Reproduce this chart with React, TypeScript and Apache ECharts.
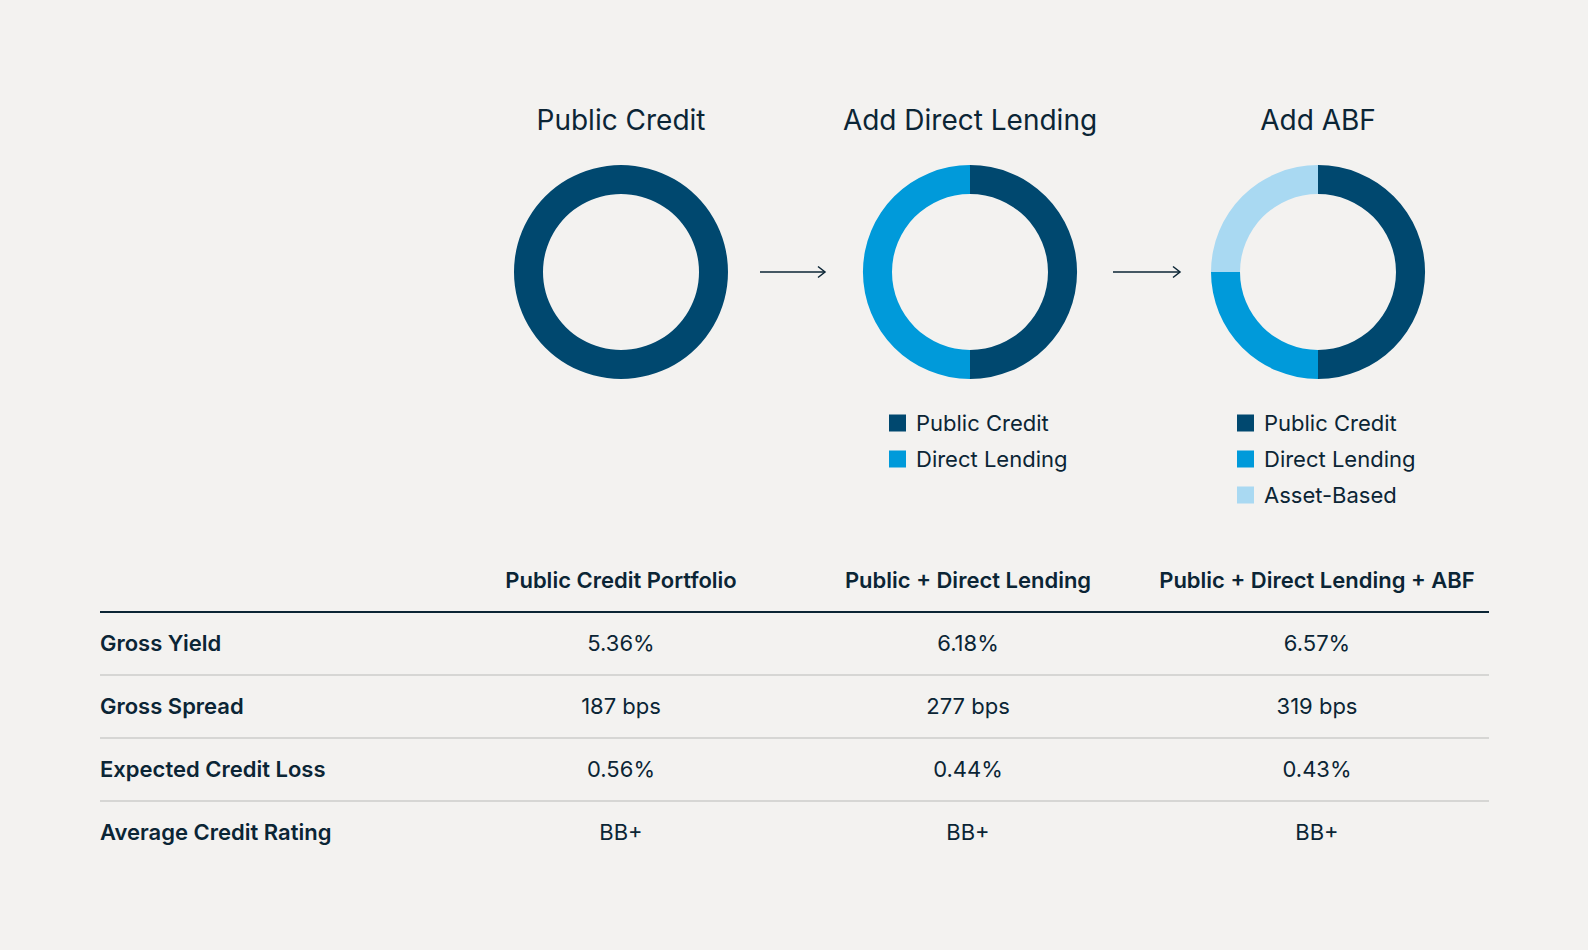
import React, { useEffect, useRef } from "react";
import * as echarts from "echarts";

const donutTitles = ["Public Credit", "Add Direct Lending", "Add ABF"];
const segmentNames = ["Public Credit", "Direct Lending", "Asset-Based"];
const publicOnly = [100];
const addDirect = [50, 50];
const addAbf = [50, 25, 25];

const columnHeaders = ["Public Credit Portfolio", "Public + Direct Lending", "Public + Direct Lending + ABF"];
const rowLabels = ["Gross Yield", "Gross Spread", "Expected Credit Loss", "Average Credit Rating"];
const col1Values = ["5.36%", "187 bps", "0.56%", "BB+"];
const col2Values = ["6.18%", "277 bps", "0.44%", "BB+"];
const col3Values = ["6.57%", "319 bps", "0.43%", "BB+"];

const COLORS = ["#00486F", "#009ADA", "#A9D9F2"];
const INK = "#0B2535";
const BG = "#F3F2F0";
const FONT = "Inter, 'Noto Sans', sans-serif";

export default function App() {
  const ref = useRef<HTMLDivElement>(null);
  useEffect(() => {
    document.body.style.margin = "0";
    const chart = echarts.init(ref.current!, undefined, { renderer: "svg" });
    const centersX = [621, 970, 1318];
    const centerY = 272;
    const mk = (vals: number[]) =>
      vals.map((v, i) => ({ name: segmentNames[i], value: v, itemStyle: { color: COLORS[i] } }));
    const pieBase = {
      type: "pie",
      radius: [78, 107],
      startAngle: 90,
      clockwise: true,
      label: { show: false },
      labelLine: { show: false },
      silent: true,
      itemStyle: { borderWidth: 0 },
      emphasis: { disabled: true },
    };
    const series = [publicOnly, addDirect, addAbf].map((vals, i) => ({
      ...pieBase,
      name: donutTitles[i],
      center: [centersX[i], centerY],
      data: mk(vals),
    }));

    const graphics: any[] = [];
    donutTitles.forEach((t, i) => {
      graphics.push({
        type: "text",
        x: centersX[i],
        y: 120,
        style: { text: t, font: `400 28px ${FONT}`, fill: INK, textAlign: "center", textVerticalAlign: "middle" },
      });
    });
    // arrows
    [[760, 825], [1113, 1180]].forEach(([x1, x2]) => {
      graphics.push({
        type: "line",
        shape: { x1, y1: 272, x2, y2: 272 },
        style: { stroke: INK, lineWidth: 1.5 },
      });
      graphics.push({
        type: "polyline",
        shape: { points: [[x2 - 7, 266.5], [x2, 272], [x2 - 7, 277.5]] },
        style: { stroke: INK, lineWidth: 1.5, fill: null },
      });
    });
    // table
    const tableLeft = 100;
    const tableRight = 1489;
    const colX = [621, 968, 1317];
    graphics.push({
      type: "line",
      shape: { x1: tableLeft, y1: 612, x2: tableRight, y2: 612 },
      style: { stroke: INK, lineWidth: 2 },
    });
    columnHeaders.forEach((h, i) => {
      graphics.push({
        type: "text",
        x: colX[i],
        y: 580,
        style: { text: h, font: `600 22px ${FONT}`, fill: INK, textAlign: "center", textVerticalAlign: "middle" },
      });
    });
    const rowY = [643, 706, 769, 832];
    const sepY = [675, 738, 801];
    sepY.forEach((y) => {
      graphics.push({
        type: "line",
        shape: { x1: tableLeft, y1: y, x2: tableRight, y2: y },
        style: { stroke: "#D6D6D4", lineWidth: 2 },
      });
    });
    const cols = [col1Values, col2Values, col3Values];
    rowLabels.forEach((lab, r) => {
      graphics.push({
        type: "text",
        x: tableLeft,
        y: rowY[r],
        style: { text: lab, font: `600 22px ${FONT}`, fill: INK, textAlign: "left", textVerticalAlign: "middle" },
      });
      cols.forEach((c, ci) => {
        graphics.push({
          type: "text",
          x: colX[ci],
          y: rowY[r],
          style: { text: c[r], font: `400 22px ${FONT}`, fill: INK, textAlign: "center", textVerticalAlign: "middle" },
        });
      });
    });

    const legendBase = {
      orient: "vertical",
      icon: "rect",
      itemWidth: 17,
      itemHeight: 17,
      itemGap: 14,
      selectedMode: false,
      textStyle: { fontFamily: FONT, fontSize: 22, color: INK, lineHeight: 22, padding: [0, 0, 0, 5] },
    };
    const legendItems = (n: number) =>
      segmentNames.slice(0, n).map((name, i) => ({ name, itemStyle: { color: COLORS[i] } }));

    chart.setOption({
      animation: false,
      backgroundColor: BG,
      color: COLORS,
      legend: [
        { ...legendBase, left: 884, top: 407, data: legendItems(2) },
        { ...legendBase, left: 1232, top: 407, data: legendItems(3) },
      ],
      series,
      graphic: graphics,
    });
    return () => chart.dispose();
  }, []);
  return <div ref={ref} style={{ width: 1588, height: 950 }} />;
}
